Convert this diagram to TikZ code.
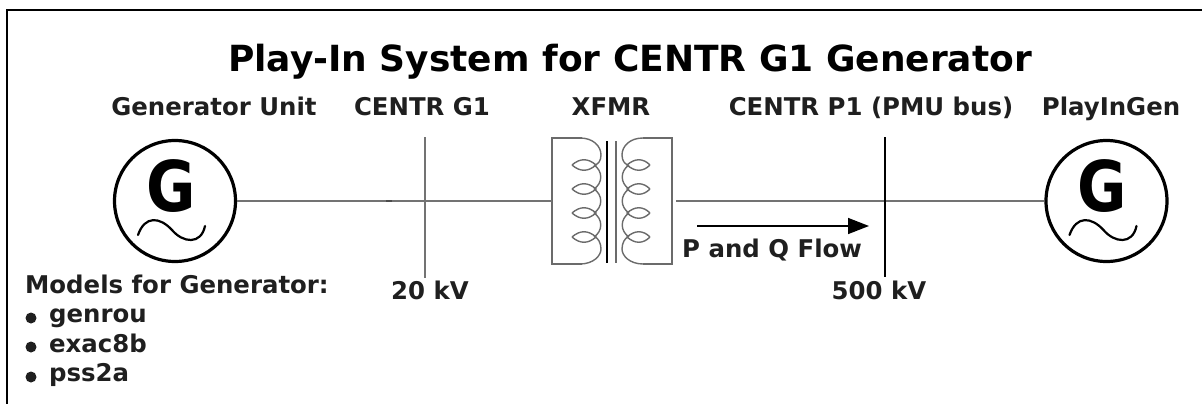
\documentclass[tikz,border=0pt]{standalone}
\usepackage{fontspec}
\setmainfont{DejaVu Sans}
\usepackage{graphicx}
\usetikzlibrary{arrows.meta}
\definecolor{wire}{gray}{0.45}
\definecolor{coil}{gray}{0.42}
\definecolor{ink}{gray}{0.12}
\tikzset{
  x=1pt,y=-1pt,
  lab/.style={font=\fontsize{24.4}{26}\selectfont\bfseries,text=ink,inner sep=0pt,anchor=base},
  ttl/.style={font=\fontsize{36}{40}\selectfont\bfseries,text=black,inner sep=0pt,anchor=base},
  gen/.style={circle,draw=black,line width=3.2pt,minimum size=121pt,inner sep=0pt},
  gletter/.style={font=\fontsize{70}{74}\selectfont\bfseries,inner sep=0pt,anchor=base},
  wireline/.style={draw=wire,line width=1.4pt},
  busgray/.style={draw=wire,line width=1.6pt},
  busline/.style={draw=black,line width=1.3pt},
  coilline/.style={draw=coil,line width=1.4pt},
  item/.style={font=\fontsize{24.4}{26}\selectfont\bfseries,text=ink,inner sep=0pt,anchor=base west},
  dotb/.style={circle,fill=ink,inner sep=0pt,minimum size=11pt}
}
\begin{document}
\begin{tikzpicture}
\useasboundingbox (0,0) rectangle (1202,404);
\draw[black,line width=1.8pt] (7,404) -- (7,10) -- (1202,10);
\node[ttl] (title) at (630,71) {Play-In System for CENTR G1 Generator};
\node[lab] (lgu) at (214,115) {Generator Unit};
\node[lab] (lg1) at (422,115) {CENTR G1};
\node[lab] (lx) at (611,115) {XFMR};
\node[lab] (lp1) at (871,115) {CENTR P1 (PMU bus)};
\node[lab] (lpg) at (1111,115) {PlayInGen};
\node[gen] (g1) at (175,201) {};
\node[gen] (g2) at (1106.5,201) {};
\node[gletter] (g1l) at (171,211) {\scalebox{0.86}[1]{G}};
\node[gletter] (g2l) at (1102,211) {\scalebox{0.86}[1]{G}};
\foreach \c in {175,1106.5}{
  \draw[black,line width=2.2pt,line cap=round] (\c-37,235) .. controls (\c-30,215) and (\c-15,217) .. (\c-3,230) .. controls (\c+8,243) and (\c+26,245) .. (\c+30,226);
}
% transformer box
\coordinate (tl) at (552,201);
\coordinate (tr) at (676,201);
\draw[coilline] (582,138) -- (552,138) -- (tl) -- (552,264) -- (582,264);
\draw[coilline] (643,138) -- (672,138) -- (672,264) -- (643,264);
\draw[black,line width=1.7pt] (607,141) -- (607,263);
\draw[coil,line width=2.6pt] (616,141) -- (616,263);
% left winding
\draw[coilline] (580,138) .. controls (593,138) and (601,146) .. (601,155) .. controls (601,161) and (598,164) .. (595,165);
\draw[coilline] (580,264) .. controls (593,264) and (601,256) .. (601,249) .. controls (601,243) and (598,238) .. (595,237);
\foreach \y in {165,189,213}{
  \draw[coilline] (594,\y) .. controls (603,\y+6) and (603,\y+18) .. (594,\y+24);
}
\foreach \y in {165,189,213,237}{
  \draw[coilline] (572,\y) .. controls (580,\y-7) and (588,\y-7) .. (596,\y) .. controls (588,\y+7) and (580,\y+7) .. (572,\y);
}
% right winding
\draw[coilline] (643,138) .. controls (630,138) and (622,146) .. (622,155) .. controls (622,161) and (625,164) .. (628,165);
\draw[coilline] (643,264) .. controls (630,264) and (622,256) .. (622,249) .. controls (622,243) and (625,238) .. (628,237);
\foreach \y in {165,189,213}{
  \draw[coilline] (629,\y) .. controls (620,\y+6) and (620,\y+18) .. (629,\y+24);
}
\foreach \y in {165,189,213,237}{
  \draw[coilline] (650,\y) .. controls (643,\y-7) and (635,\y-7) .. (627,\y) .. controls (635,\y+7) and (643,\y+7) .. (650,\y);
}
% buses
\coordinate (b1t) at (425,137);
\coordinate (b1b) at (425,278);
\coordinate (b2t) at (885,137);
\coordinate (b2b) at (885,277);
\draw[wireline] (g1.east) -- (tl);
\draw[wireline] (tr) -- (g2.west);
\draw[busgray] (b1t) -- (b1b);
\draw[busline] (b2t) -- (b2b);
\draw[black!70,line width=1.6pt] (386,201) -- (392,201);
% flow arrow
\coordinate (fa) at (697,226);
\coordinate (fb) at (869,226);
\draw[black,line width=1.5pt,-{Triangle[length=21pt,width=16pt]}] (fa) -- (fb);
\node[lab,anchor=base west] (pq) at (682,257) {P and Q Flow};
\node[lab] (kv1) at (430,299) {20 kV};
\node[lab] (kv2) at (879,299) {500 kV};
\node[item] (mh) at (25,293) {Models for Generator:};
\node[dotb] (d1) at (31,318) {};
\node[dotb] (d2) at (31,347) {};
\node[dotb] (d3) at (31,377) {};
\node[item] (m1) at (49,322) {genrou};
\node[item] (m2) at (49,352) {exac8b};
\node[item] (m3) at (49,381) {pss2a};
\end{tikzpicture}
\end{document}
